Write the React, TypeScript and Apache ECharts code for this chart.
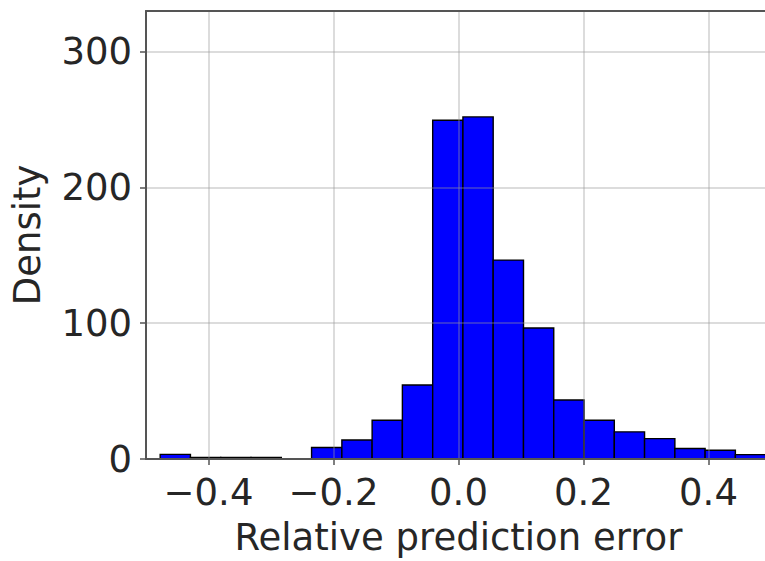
import React, { useEffect, useRef } from "react";
import * as echarts from "echarts";

// Histogram bin edges (relative prediction error)
const binEdges = [
  -0.4773, -0.4289, -0.3804, -0.332, -0.2835, -0.2351, -0.1866, -0.1382,
  -0.0898, -0.0413, 0.0071, 0.0555, 0.104, 0.1524, 0.2009, 0.2493, 0.2977,
  0.3462, 0.3946, 0.443, 0.4915,
];
// Density per bin
const densities = [
  3.4, 1.2, 1.2, 1.2, 0, 8.5, 14, 28.5, 54.5, 249.5, 252, 146.5, 96.5, 43.5,
  28.5, 20, 15, 7.7, 6.5, 3.2,
];
const xTicks = [-0.4, -0.2, 0.0, 0.2, 0.4];
const yTicks = [0, 100, 200, 300];

const FONT = "DejaVu Sans";
const TEXT = "#262626";
const SPINE = "#555555";
const GRIDC = "rgba(150,150,150,0.45)";

export default function App() {
  const ref = useRef<HTMLDivElement>(null);
  useEffect(() => {
    if (!ref.current) return;
    const chart = echarts.init(ref.current, null, { renderer: "svg" });
    const data = densities.map((d, i) => [binEdges[i], binEdges[i + 1], d]);
    chart.setOption({
      animation: false,
      backgroundColor: "#ffffff",
      grid: {
        left: 146,
        top: 11,
        width: 625,
        height: 457,
        show: false,
      },
      xAxis: [
        {
          type: "value",
          min: -0.5,
          max: 0.5,
          z: 5,
          name: "Relative prediction error",
          nameLocation: "middle",
          nameGap: 60,
          nameTextStyle: { fontFamily: FONT, fontSize: 37, color: TEXT },
          axisLine: {
            show: true,
            onZero: false,
            lineStyle: { color: SPINE, width: 2 },
          },
          axisTick: {
            show: true,
            length: 6,
            customValues: xTicks,
            lineStyle: { color: SPINE, width: 1.5 },
          },
          axisLabel: {
            customValues: xTicks,
            margin: 15,
            fontFamily: FONT,
            fontSize: 37,
            color: TEXT,
            formatter: (v: number) => v.toFixed(1).replace("-", "\u2212"),
          },
          splitLine: { show: true, lineStyle: { color: GRIDC, width: 1.5 } },
        },
        {
          type: "value",
          position: "top",
          min: -0.5,
          max: 0.5,
          z: 5,
          axisLine: {
            show: true,
            onZero: false,
            lineStyle: { color: SPINE, width: 2 },
          },
          axisTick: { show: false },
          axisLabel: { show: false },
          splitLine: { show: false },
        },
      ],
      yAxis: {
        type: "value",
        min: 0,
        max: 330,
        interval: 100,
        z: 5,
        name: "Density",
        nameLocation: "middle",
        nameGap: 100,
        nameTextStyle: { fontFamily: FONT, fontSize: 37, color: TEXT },
        axisLine: {
          show: true,
          onZero: false,
          lineStyle: { color: SPINE, width: 2 },
        },
        axisTick: {
          show: true,
          length: 6,
          customValues: yTicks,
          lineStyle: { color: SPINE, width: 1.5 },
        },
        axisLabel: {
          customValues: yTicks,
          margin: 14,
          fontFamily: FONT,
          fontSize: 37,
          color: TEXT,
        },
        splitLine: { show: true, lineStyle: { color: GRIDC, width: 1.5 } },
      },
      series: [
        {
          type: "custom",
          z: 2,
          xAxisIndex: 0,
          yAxisIndex: 0,
          encode: { x: [0, 1], y: 2 },
          data,
          renderItem: (params: any, api: any) => {
            const p0 = api.coord([api.value(0), api.value(2)]);
            const p1 = api.coord([api.value(1), 0]);
            return {
              type: "rect",
              shape: {
                x: p0[0],
                y: p0[1],
                width: p1[0] - p0[0],
                height: p1[1] - p0[1],
              },
              style: { fill: "#0000ff", stroke: "#000000", lineWidth: 1.4 },
            };
          },
        },
      ],
    });
    return () => chart.dispose();
  }, []);
  return (
    <div
      style={{
        position: "absolute",
        left: 0,
        top: 0,
        width: 765,
        height: 561,
        overflow: "hidden",
      }}
    >
      <div ref={ref} style={{ width: 800, height: 561 }} />
    </div>
  );
}
